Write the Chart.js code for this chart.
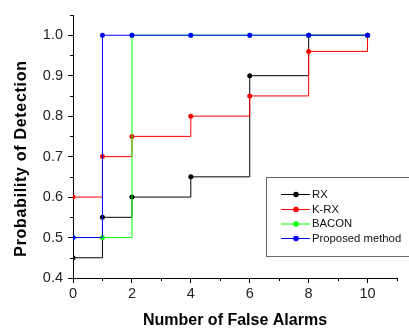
<!DOCTYPE html>
<html>
<head>
<meta charset="utf-8">
<script src="https://cdn.jsdelivr.net/npm/chart.js@4.4.1/dist/chart.umd.min.js"></script>
<style>
  html, body { margin: 0; padding: 0; background: #fff; }
  #wrap { width: 409px; height: 329px; }
</style>
</head>
<body>
<div id="wrap"><canvas id="roc" width="409" height="329"></canvas></div>
<script>
const falseAlarms = [0, 1, 2, 4, 6, 8, 10];
const rxValues = [0.45, 0.55, 0.60, 0.65, 0.90, 1.0, 1.0];
const krxValues = [0.60, 0.70, 0.75, 0.80, 0.85, 0.96, 1.0];
const baconValues = [0.50, 0.50, 1.0, 1.0, 1.0, 1.0, 1.0];
const proposedValues = [0.50, 1.0, 1.0, 1.0, 1.0, 1.0, 1.0];
const seriesNames = ['RX', 'K-RX', 'BACON', 'Proposed method'];
const seriesColors = ['#000000', '#ff0000', '#00ff00', '#0000ff'];

const font = 'Liberation Sans, Arial, sans-serif';

function toPoints(vals) {
  return falseAlarms.map((x, i) => ({ x: x, y: vals[i] }));
}

function makeSet(i, vals) {
  return {
    label: seriesNames[i],
    data: toPoints(vals),
    borderColor: seriesColors[i],
    backgroundColor: seriesColors[i],
    borderWidth: 1,
    pointRadius: 2.5,
    pointBorderWidth: 0,
    stepped: true,
    order: 4 - i
  };
}

// minor ticks, legend box and rotated y title
const extras = {
  id: 'extras',
  afterDraw(chart) {
    const ctx = chart.ctx;
    const xs = chart.scales.x, ys = chart.scales.y;
    const area = chart.chartArea;
    ctx.save();
    ctx.strokeStyle = '#000';
    ctx.lineWidth = 1;
    ctx.beginPath();
    for (let v = 1; v <= 11; v += 2) {
      const px = Math.round(xs.getPixelForValue(v)) + 0.5;
      ctx.moveTo(px, area.bottom);
      ctx.lineTo(px, area.bottom + 3);
    }
    for (let k = 9; k <= 21; k += 2) {
      const py = Math.round(ys.getPixelForValue(k * 0.05)) + 0.5;
      ctx.moveTo(area.left, py);
      ctx.lineTo(area.left - 3, py);
    }
    ctx.stroke();

    // legend
    ctx.fillStyle = '#fff';
    ctx.fillRect(266.5, 177.5, 150, 79);
    ctx.strokeStyle = '#666';
    ctx.strokeRect(266.5, 177.5, 150, 79);
    ctx.font = '11.3px ' + font;
    ctx.textBaseline = 'middle';
    ctx.textAlign = 'left';
    const rows = [194, 209, 223.5, 238];
    seriesNames.forEach((name, i) => {
      const y = rows[i] + 0.5;
      ctx.strokeStyle = seriesColors[i];
      ctx.beginPath();
      ctx.moveTo(281, y);
      ctx.lineTo(310, y);
      ctx.stroke();
      ctx.fillStyle = seriesColors[i];
      ctx.beginPath();
      ctx.arc(296, y, 2.8, 0, Math.PI * 2);
      ctx.fill();
      ctx.fillStyle = '#111';
      ctx.fillText(name, 312, y);
    });

    // y title
    ctx.translate(22, 158.5);
    ctx.rotate(-Math.PI / 2);
    ctx.font = 'bold 16px ' + font;
    ctx.letterSpacing = '0.7px';
    ctx.fillStyle = '#000';
    ctx.textAlign = 'center';
    ctx.fillText('Probability of Detection', 0, 0);
    ctx.restore();
  }
};

new Chart(document.getElementById('roc'), {
  type: 'line',
  data: {
    datasets: [
      makeSet(0, rxValues),
      makeSet(1, krxValues),
      makeSet(2, baconValues),
      makeSet(3, proposedValues)
    ]
  },
  options: {
    responsive: false,
    animation: false,
    layout: { padding: { top: 15, right: 12, left: 0, bottom: 0 } },
    plugins: { legend: { display: false }, tooltip: { enabled: false } },
    scales: {
      x: {
        type: 'linear',
        min: 0,
        max: 11,
        afterFit: (s) => { s.height = 51; },
        border: { color: '#000', width: 1 },
        grid: {
          drawOnChartArea: false,
          tickLength: 5,
          tickColor: (c) => (c.tick && c.tick.value % 2 === 0 ? '#000' : 'rgba(0,0,0,0)')
        },
        ticks: {
          stepSize: 1,
          autoSkip: false,
          maxRotation: 0,
          padding: 2,
          color: '#222',
          font: { family: font, size: 14.5 },
          callback: (v) => (v % 2 === 0 && v <= 10 ? String(v) : '')
        },
        title: {
          display: true,
          text: 'Number of False Alarms',
          color: '#000',
          padding: { top: 0, bottom: 0 },
          font: { family: font, size: 16, weight: 'bold', lineHeight: 1 }
        }
      },
      y: {
        min: 0.4,
        max: 1.05,
        afterFit: (s) => { s.width = 73; },
        border: { color: '#000', width: 1 },
        grid: {
          drawOnChartArea: false,
          tickLength: 5,
          tickColor: (c) => (c.tick && Math.round(c.tick.value * 100) % 10 === 0 ? '#000' : 'rgba(0,0,0,0)')
        },
        ticks: {
          stepSize: 0.05,
          autoSkip: false,
          padding: 5,
          color: '#222',
          font: { family: font, size: 14.5 },
          callback: (v) => (Math.round(v * 100) % 10 === 0 && v < 1.02 ? v.toFixed(1) : '')
        }
      }
    }
  },
  plugins: [extras]
});
</script>
</body>
</html>
